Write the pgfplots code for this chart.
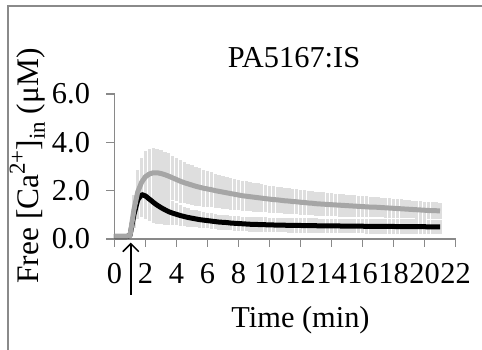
\documentclass[border=0pt]{standalone}
\usepackage{fontspec}
\setmainfont{Liberation Serif}
\usepackage{pgfplots}
\usepackage{pgfplotstable}
\pgfplotsset{compat=1.18}
\usetikzlibrary{arrows.meta}

\definecolor{axisgray}{HTML}{898989}
\definecolor{framegray}{HTML}{8A8A8A}
\definecolor{seriesgray}{HTML}{A6A6A6}
\definecolor{errgray}{HTML}{DEDEDE}

\newcommand{\bigfont}{\fontsize{30.5}{36}\selectfont}
\newcommand{\labelfont}{\fontsize{31.5}{36}\selectfont}
\newcommand{\sups}[1]{\raisebox{0.42em}{\fontsize{23}{24}\selectfont #1}}
\newcommand{\subs}[1]{\raisebox{-0.22em}{\fontsize{23}{24}\selectfont #1}}

% time (min), control mean, control SD, strain mean, strain SD
\pgfplotstableread{
t     blk   blkerr  gry   gryerr
0.00  0.10  0.05    0.12  0.08
0.25  0.10  0.05    0.12  0.08
0.50  0.10  0.05    0.12  0.08
0.75  0.10  0.05    0.12  0.08
1.00  0.14  0.10    0.13  0.10
1.25  1.00  0.55    1.20  0.60
1.50  1.62  0.80    1.95  0.90
1.75  1.84  0.95    2.35  1.00
2.00  1.78  0.95    2.58  1.05
2.25  1.65  0.90    2.69  1.05
2.50  1.52  0.85    2.74  1.03
2.75  1.40  0.78    2.74  1.00
3.00  1.30  0.70    2.71  0.98
3.25  1.21  0.62    2.66  0.96
3.50  1.13  0.55    2.60  0.94
3.75  1.07  0.50    2.53  0.92
4.00  1.02  0.45    2.46  0.90
4.25  0.97  0.42    2.39  0.88
4.50  0.93  0.40    2.33  0.86
4.75  0.89  0.38    2.28  0.84
5.00  0.86  0.36    2.23  0.82
5.25  0.83  0.35    2.18  0.80
5.50  0.80  0.34    2.14  0.78
5.75  0.78  0.33    2.10  0.76
6.00  0.76  0.32    2.07  0.74
6.25  0.74  0.32    2.04  0.72
6.50  0.72  0.31    2.00  0.70
6.75  0.70  0.31    1.97  0.69
7.00  0.69  0.31    1.94  0.68
7.25  0.68  0.31    1.91  0.67
7.50  0.66  0.30    1.88  0.66
7.75  0.65  0.30    1.85  0.65
8.00  0.64  0.30    1.82  0.64
8.25  0.63  0.30    1.79  0.63
8.50  0.62  0.30    1.77  0.62
8.75  0.61  0.30    1.75  0.61
9.00  0.60  0.30    1.73  0.60
9.25  0.60  0.30    1.71  0.59
9.50  0.59  0.30    1.69  0.58
9.75  0.59  0.30    1.67  0.57
10.00 0.58  0.30    1.65  0.56
10.25 0.58  0.30    1.63  0.55
10.50 0.57  0.30    1.62  0.55
10.75 0.57  0.30    1.60  0.54
11.00 0.57  0.30    1.58  0.54
11.25 0.56  0.30    1.57  0.53
11.50 0.56  0.30    1.55  0.53
11.75 0.56  0.30    1.54  0.52
12.00 0.56  0.30    1.52  0.52
12.25 0.55  0.30    1.51  0.51
12.50 0.55  0.30    1.49  0.51
12.75 0.55  0.30    1.48  0.50
13.00 0.55  0.30    1.46  0.50
13.25 0.54  0.30    1.45  0.49
13.50 0.54  0.30    1.44  0.49
13.75 0.54  0.30    1.43  0.48
14.00 0.54  0.30    1.42  0.48
14.25 0.54  0.30    1.41  0.47
14.50 0.54  0.30    1.40  0.47
14.75 0.53  0.30    1.39  0.46
15.00 0.53  0.30    1.38  0.46
15.25 0.53  0.30    1.37  0.45
15.50 0.53  0.30    1.36  0.45
15.75 0.53  0.30    1.35  0.44
16.00 0.53  0.30    1.34  0.44
16.25 0.52  0.30    1.33  0.43
16.50 0.52  0.30    1.32  0.43
16.75 0.52  0.30    1.32  0.42
17.00 0.52  0.30    1.31  0.42
17.25 0.52  0.30    1.30  0.41
17.50 0.52  0.30    1.29  0.41
17.75 0.52  0.30    1.28  0.40
18.00 0.52  0.30    1.27  0.40
18.25 0.51  0.30    1.26  0.39
18.50 0.51  0.30    1.25  0.39
18.75 0.51  0.30    1.24  0.38
19.00 0.51  0.30    1.23  0.38
19.25 0.51  0.30    1.22  0.37
19.50 0.51  0.30    1.21  0.37
19.75 0.51  0.30    1.20  0.36
20.00 0.51  0.30    1.19  0.36
20.25 0.50  0.30    1.18  0.35
20.50 0.50  0.30    1.17  0.35
20.75 0.50  0.30    1.17  0.35
21.00 0.50  0.30    1.16  0.35
}\catrace

\begin{document}
\begin{tikzpicture}
\path[use as bounding box] (0,0) rectangle (482bp,350bp);
% chart area frame
\draw[line width=1.7bp, framegray] (8.2bp,0) -- (8.2bp,343.7bp) -- (482bp,343.7bp);

\begin{axis}[
  at={(114.5bp,111bp)}, anchor=south west,
  x=15.5bp, y=24.17bp,
  xmin=0, xmax=22, ymin=0, ymax=6,
  axis lines=left,
  axis line style={-, draw=axisgray, line width=1.2bp},
  tick align=outside,
  major tick length=8bp,
  tick style={draw=axisgray, line width=1.2bp},
  xtick={0,2,...,22},
  ytick={0,2,4,6},
  clip=false,
  ticklabel style={font=\bigfont},
  /pgf/number format/assume math mode=true,
  yticklabel style={xshift=-13bp, /pgf/number format/.cd, fixed, fixed zerofill, precision=1},
  xticklabel style={yshift=-13bp, /pgf/number format/.cd, fixed, precision=0},
]
% error bars first, then the mean traces
\addplot[draw=none, mark=none, forget plot,
  error bars/.cd, y dir=both, y explicit, error mark=none,
  error bar style={draw=errgray, line width=3.3bp}]
  table[x=t, y=gry, y error=gryerr] {\catrace};
\addplot[draw=none, mark=none, forget plot,
  error bars/.cd, y dir=both, y explicit, error mark=none,
  error bar style={draw=errgray, line width=3.3bp}]
  table[x=t, y=blk, y error=blkerr] {\catrace};
\addplot[black, line width=5bp, line join=round, mark=none]
  table[x=t, y=blk] {\catrace};
\addplot[seriesgray, line width=5bp, line join=round, mark=none]
  table[x=t, y=gry] {\catrace};
% stimulus time
\draw[black, line width=1.5bp, -{Straight Barb[length=8bp, width=16bp, line width=1.5bp]}]
  (axis cs:1.05,-2.31) -- (axis cs:1.05,-0.15);
\end{axis}

\node[anchor=base, font=\bigfont] at (294bp,282bp) {PA5167:IS};
\node[anchor=base, font=\bigfont] at (300.5bp,23bp) {Time (min)};
\node[anchor=base, rotate=90, font=\labelfont] at (38bp,184bp)
  {Free [Ca\sups{2+}]\subs{in} (μM)};
\end{tikzpicture}
\end{document}
